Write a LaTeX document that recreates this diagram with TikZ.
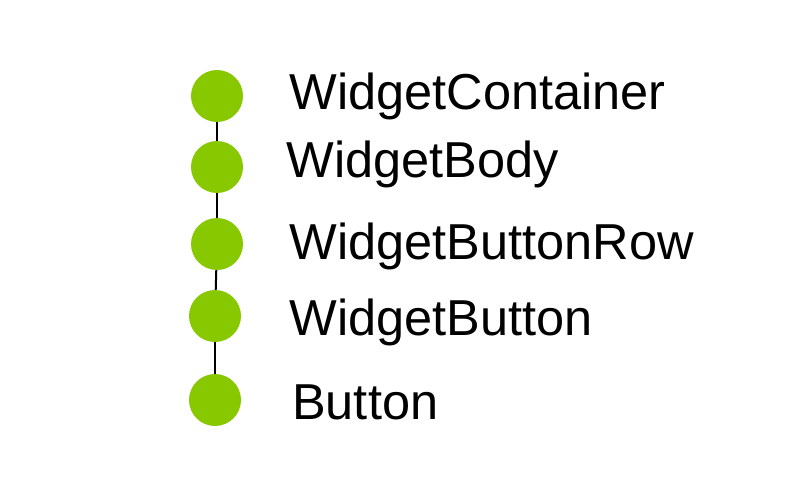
\documentclass[tikz,border=0pt]{standalone}
\usepackage{fontspec}
\setmainfont{Liberation Sans}
\definecolor{leaf}{RGB}{136,200,0}
\begin{document}
\begin{tikzpicture}[x=1pt,y=-1pt,
  dot/.style={circle,fill=leaf,draw=none,minimum size=52pt,inner sep=0pt},
  lbl/.style={anchor=base west,inner sep=0pt,font=\fontsize{50.5}{60}\selectfont},
  link/.style={draw=black,line width=2pt}]
  \useasboundingbox (0,0) rectangle (800,500);
  \fill[white] (0,0) rectangle (800,500);
  % hierarchy dots
  \node[dot] (c1) at (217,96) {};
  \node[dot] (c2) at (217,167) {};
  \node[dot] (c3) at (217,244) {};
  \node[dot] (c4) at (215,316) {};
  \node[dot] (c5) at (215,400) {};
  % connectors between levels
  \path[link] (c1) -- (c2);
  \path[link] (c2) -- (c3);
  \path[link] (c3) -- (c4);
  \path[link] (c4) -- (c5);
  % labels
  \node[lbl] (t1) at (289.5,110) {WidgetContainer};
  \node[lbl] (t2) at (286.5,177) {WidgetBody};
  \node[lbl] (t3) at (289.5,259) {WidgetButtonRow};
  \node[lbl] (t4) at (289.5,335) {WidgetButton};
  \node[lbl] (t5) at (292,419) {Button};
\end{tikzpicture}
\end{document}
